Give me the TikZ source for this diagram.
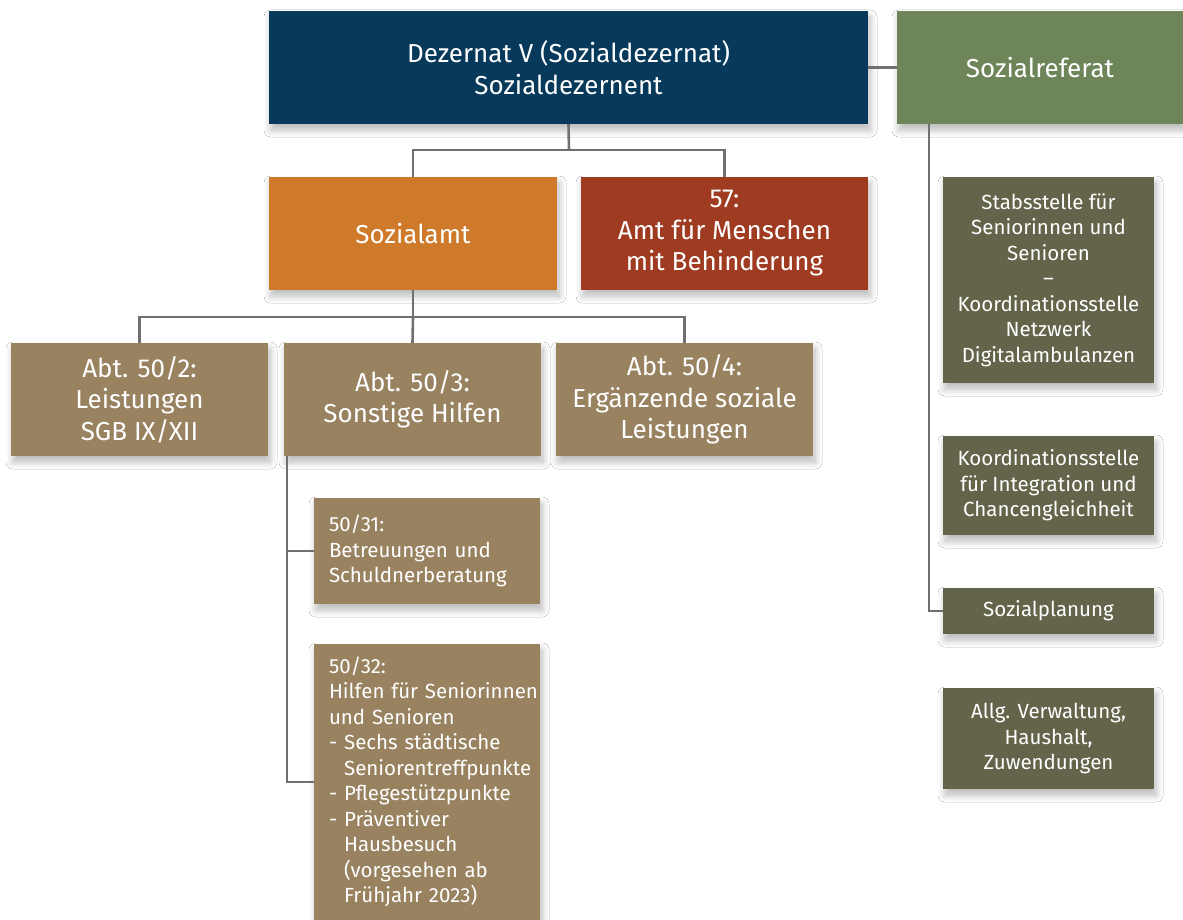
\documentclass[tikz,border=0pt]{standalone}
\usepackage{fontspec}
\setmainfont{Fira Sans}
\usetikzlibrary{shadows.blur}
\definecolor{cdez}{HTML}{07395B}
\definecolor{cref}{HTML}{6E8559}
\definecolor{camt}{HTML}{CF7A2A}
\definecolor{cfs}{HTML}{9E3B21}
\definecolor{cbrown}{HTML}{988260}
\definecolor{colive}{HTML}{63644A}
\definecolor{cline}{HTML}{6E7073}
\newcommand\myNoHyph{\hyphenpenalty10000\exhyphenpenalty10000\relax}
\tikzset{
  box/.style={rectangle, inner sep=0pt, text=white, align=center,
    blur shadow={shadow xshift=2pt, shadow yshift=-6pt, shadow blur radius=7pt, shadow blur steps=12, shadow opacity=28}},
  big/.style={box, font=\fontsize{26}{31.5}\selectfont},
  small/.style={box, font=\fontsize{20.5}{25.5}\selectfont\myNoHyph},
  conn/.style={draw=cline, line width=2.6pt},
}
\begin{document}
\begin{tikzpicture}[x=1pt,y=-1pt]
\useasboundingbox[fill=white] (0,0) rectangle (1183,920);
% top level
\node[big, fill=cdez, minimum width=599pt, minimum height=113pt] (dez) at (568.5,67.5) {Dezernat V (Sozialdezernat)\\Sozialdezernent};
\node[big, fill=cref, minimum width=286pt, minimum height=113pt] (ref) at (1040,67.5) {Sozialreferat};
% second level
\node[big, fill=camt, minimum width=288pt, minimum height=113pt] (amt) at (413,233.5) {Sozialamt};
\node[big, fill=cfs, minimum width=287pt, minimum height=113pt] (fs) at (724.5,233.5) {57:\\Amt für Menschen\\mit Behinderung};
% third level
\node[big, fill=cbrown, minimum width=257pt, minimum height=113pt] (a2) at (139.5,399.5) {Abt. 50/2:\\Leistungen\\SGB IX/XII};
\node[big, fill=cbrown, minimum width=257pt, minimum height=113pt] (a3) at (412.5,399.5) {Abt. 50/3:\\Sonstige Hilfen};
\node[big, fill=cbrown, minimum width=257pt, minimum height=113pt] (a4) at (684.5,399.5) {Abt. 50/4:\\Ergänzende soziale\\Leistungen};
% sub units
\node[small, fill=cbrown, minimum width=226pt, minimum height=106pt, text width=196pt, align=left] (s1) at (427,551) {50/31:\\Betreuungen und\\Schuldnerberatung};
\node[small, fill=cbrown, minimum width=226pt, minimum height=276pt, text width=196pt, align=left] (s2) at (427,782) {50/32:\\Hilfen~für~Seniorinnen\\und Senioren\\- Sechs städtische\\\phantom{- }Seniorentreffpunkte\\- Pflegestützpunkte\\- Präventiver\\\phantom{- }Hausbesuch\\\phantom{- }(vorgesehen~ab\\\phantom{- }Frühjahr~2023)};
% right column
\node[small, fill=colive, minimum width=211pt, minimum height=206pt] (stab) at (1048.5,280) {Stabsstelle für\\Seniorinnen und\\Senioren\\–\\Koordinationsstelle\\Netzwerk\\Digitalambulanzen};
\node[small, fill=colive, minimum width=211pt, minimum height=99pt] (koord) at (1048.5,485.5) {Koordinationsstelle\\für Integration und\\Chancengleichheit};
\node[small, fill=colive, minimum width=211pt, minimum height=46pt] (plan) at (1048.5,611) {Sozialplanung};
\node[small, fill=colive, minimum width=211pt, minimum height=101pt] (allg) at (1048.5,738.5) {Allg. Verwaltung,\\Haushalt,\\Zuwendungen};
% connectors
\coordinate (j1) at (569,150);
\coordinate (j2) at (413,317);
\coordinate (s3) at (287,456);
\coordinate (r1) at (929,124);
\draw[conn] (dez.south) -- (j1);
\draw[conn] (amt.north) -- (amt.north |- j1) -- (fs.north |- j1) -- (fs.north);
\draw[conn] (amt.south) -- (j2);
\draw[conn] (a2.north) -- (a2.north |- j2) -- (a4.north |- j2) -- (a4.north);
\draw[conn] (j2) -- (a3.north);
\draw[conn] (s3) |- (s2.west);
\draw[conn] (s1.west) -- (s1.west -| s3);
\draw[conn] (dez.east) -- (ref.west);
\draw[conn] (r1) |- (plan.west);
\end{tikzpicture}
\end{document}
